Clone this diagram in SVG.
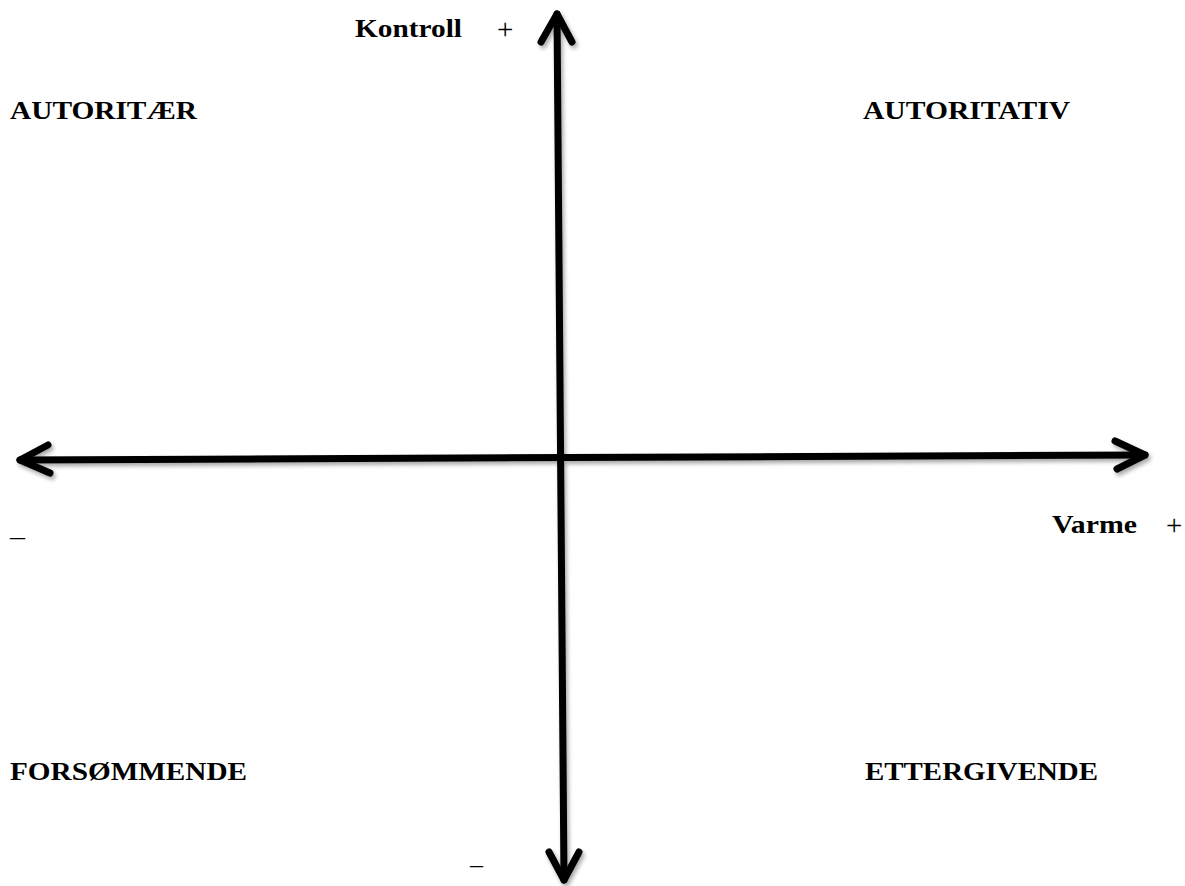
<svg xmlns="http://www.w3.org/2000/svg" width="1185" height="886" viewBox="0 0 1185 886">
<defs>
<filter id="sh" x="-10%" y="-10%" width="120%" height="120%">
<feGaussianBlur in="SourceAlpha" stdDeviation="2"/>
<feOffset dx="2" dy="3" result="b"/>
<feComponentTransfer><feFuncA type="linear" slope="0.35"/></feComponentTransfer>
<feMerge><feMergeNode/><feMergeNode in="SourceGraphic"/></feMerge>
</filter>
</defs>
<style>
.t{font-family:"Liberation Serif","Times New Roman",serif;font-weight:bold;font-size:26px;fill:#000}
.s{font-family:"Liberation Serif","Times New Roman",serif;font-size:26px;fill:#000}
.p{font-family:"Liberation Serif","Times New Roman",serif;font-size:29px;fill:#000}
.ax{stroke:#000;stroke-width:7;fill:none;stroke-linecap:round;stroke-linejoin:round}
</style>
<rect width="1185" height="886" fill="#fff"/>
<g id="connectors" filter="url(#sh)">
<path class="ax" d="M557,14 L564,880"/>
<path class="ax" d="M541,42 L557,14 L572,42"/>
<path class="ax" d="M549,852 L564,880 L579,852"/>
<path class="ax" d="M20,460 L1145,455"/>
<path class="ax" d="M48,445 L20,460 L50,473"/>
<path class="ax" d="M1115,441 L1145,455 L1117,469"/>
</g>
<g id="kontroll"><text class="t" x="355" y="37" textLength="107" lengthAdjust="spacingAndGlyphs">Kontroll</text><text class="p" x="497" y="39">+</text></g>
<g id="autoritaer"><text class="t" x="10" y="119" textLength="187" lengthAdjust="spacingAndGlyphs">AUTORITÆR</text></g>
<g id="autoritativ"><text class="t" x="863" y="119" textLength="207" lengthAdjust="spacingAndGlyphs">AUTORITATIV</text></g>
<g id="minus-left"><text class="s" x="10" y="545" textLength="15" lengthAdjust="spacingAndGlyphs">–</text></g>
<g id="varme"><text class="t" x="1052" y="533" textLength="85" lengthAdjust="spacingAndGlyphs">Varme</text><text class="p" x="1166" y="535">+</text></g>
<g id="forsommende"><text class="t" x="10" y="780" textLength="237" lengthAdjust="spacingAndGlyphs">FORSØMMENDE</text></g>
<g id="ettergivende"><text class="t" x="865" y="780" textLength="233" lengthAdjust="spacingAndGlyphs">ETTERGIVENDE</text></g>
<g id="minus-bottom"><text class="s" x="470" y="873" textLength="13" lengthAdjust="spacingAndGlyphs">–</text></g>
</svg>
